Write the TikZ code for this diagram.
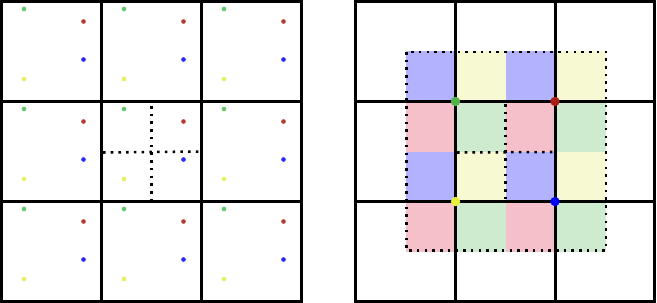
\documentclass[tikz,border=0pt]{standalone}
\definecolor{dgreen}{RGB}{100,200,110}
\definecolor{dred}{RGB}{180,60,50}
\definecolor{dblue}{RGB}{40,40,255}
\definecolor{dyellow}{RGB}{230,240,100}
\definecolor{Rgreen}{RGB}{80,180,70}
\definecolor{Rred}{RGB}{170,30,20}
\definecolor{Rblue}{RGB}{0,0,255}
\definecolor{Ryellow}{RGB}{230,240,60}
\definecolor{fblue}{RGB}{178,178,255}
\definecolor{fyellow}{RGB}{246,249,210}
\definecolor{fpink}{RGB}{245,192,202}
\definecolor{fgreen}{RGB}{206,235,208}
\begin{document}
\begin{tikzpicture}[x=0.75pt,y=-0.75pt,
  gridline/.style={line width=2.25pt},
  dotline/.style={line width=1.9pt,dash pattern=on 1.9pt off 3.9pt},
  smalldot/.style={circle,inner sep=0pt,minimum size=3.5pt},
  bigdot/.style={circle,inner sep=0pt,minimum size=7pt}]
\useasboundingbox (0,0) rectangle (657,303);
% ---------- left ----------
\foreach \i in {0,1,2}{
  \foreach \j in {0,1,2}{
    \pgfmathsetmacro\cx{1.5+100*\i}
    \pgfmathsetmacro\cy{1.5+100*\j}
    \node[smalldot,fill=dgreen] (g\i\j) at (\cx+22.5,\cy+7.5) {};
    \node[smalldot,fill=dred] (r\i\j) at (\cx+82,\cy+20) {};
    \node[smalldot,fill=dblue] (b\i\j) at (\cx+82,\cy+58) {};
    \node[smalldot,fill=dyellow] (y\i\j) at (\cx+22.5,\cy+77.5) {};
  }
}
\draw[gridline] (1.5,1.5) rectangle (301.5,301.5);
\draw[gridline] (101.5,1.5) -- (101.5,301.5) (201.5,1.5) -- (201.5,301.5)
  (1.5,101.5) -- (301.5,101.5) (1.5,201.5) -- (301.5,201.5);
\draw[dotline] (103,152.5) -- (200,151.5);
\draw[dotline] (151.5,106) -- (151.5,201);
% ---------- right ----------
\foreach \r/\ca/\cb in {0/fblue/fyellow,1/fpink/fgreen,2/fblue/fyellow,3/fpink/fgreen}{
  \foreach \c in {0,2}{
    \fill[\ca] (406+50*\c,51.5+50*\r) rectangle ++(50,50);
    \fill[\cb] (456+50*\c,51.5+50*\r) rectangle ++(50,50);
  }
}
\draw[dotline] (406.5,52) rectangle (606,250.5);
\draw[dotline] (505.5,104) -- (505.5,201);
\draw[dotline] (457,152.5) -- (553,152);
\draw[gridline] (355.5,1.5) rectangle (654.5,301.5);
\draw[gridline] (455.5,1.5) -- (455.5,301.5) (555,1.5) -- (555,301.5)
  (355.5,101.5) -- (654.5,101.5) (355.5,201.5) -- (654.5,201.5);
\node[bigdot,fill=Rgreen] (G) at (455.5,101.5) {};
\node[bigdot,fill=Rred] (R) at (555,101.5) {};
\node[bigdot,fill=Ryellow] (Y) at (455.5,201.5) {};
\node[bigdot,fill=Rblue] (B) at (555,201.5) {};
\end{tikzpicture}
\end{document}
